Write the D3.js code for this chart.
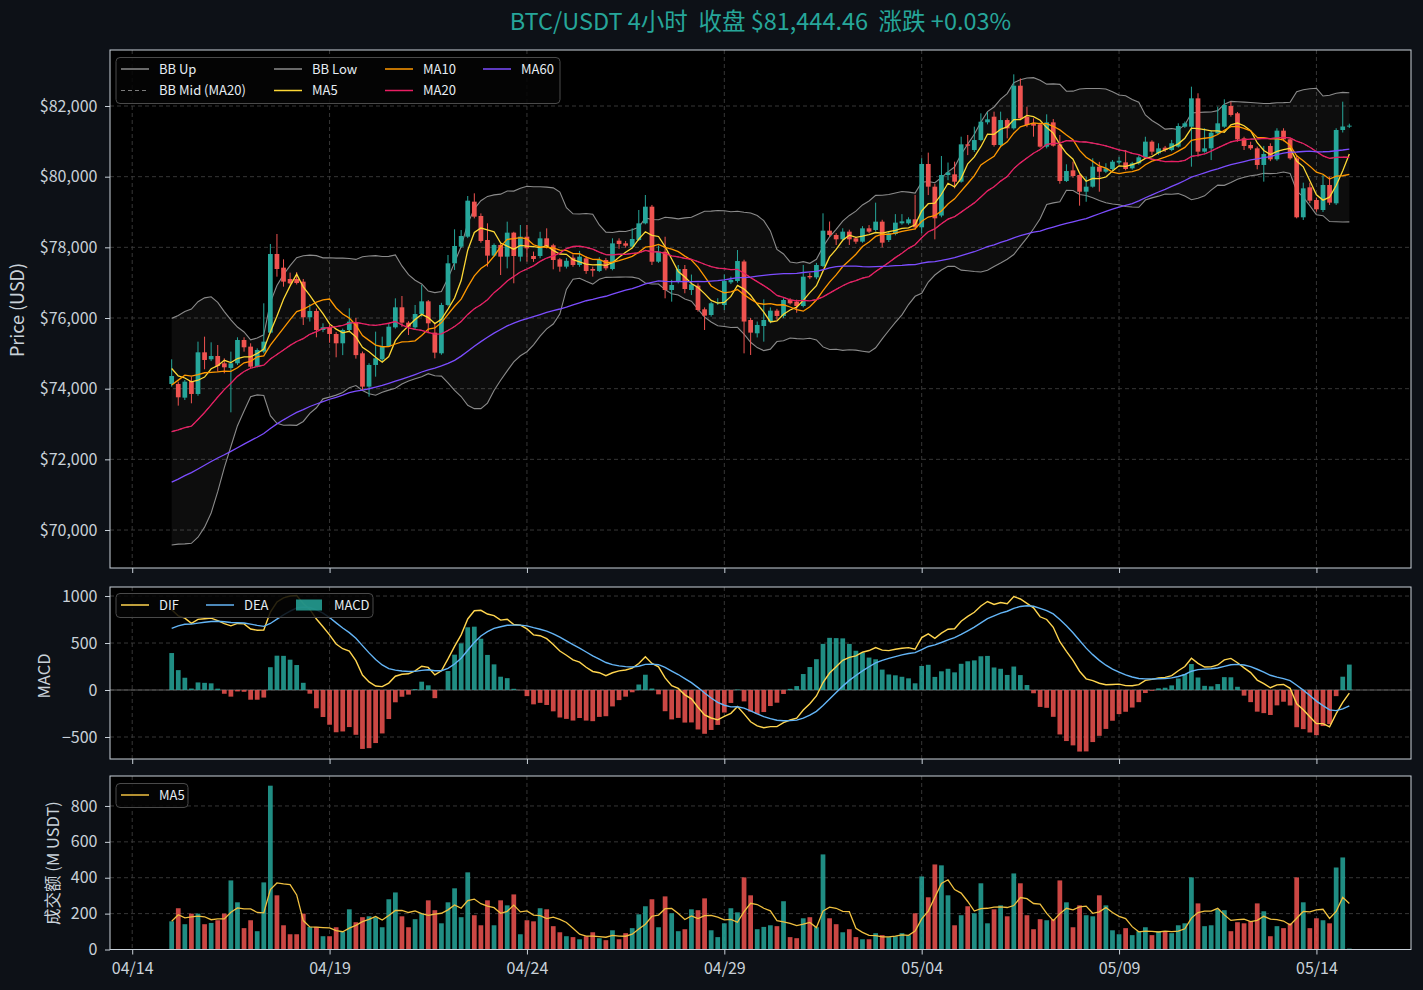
<!DOCTYPE html>
<html><head><meta charset="utf-8">
<script src="https://cdn.jsdelivr.net/npm/d3@7"></script>
<style>
body{margin:0;background:#0d1117;}
svg{display:block}
text{font-family:"Noto Sans CJK SC","Noto Sans",sans-serif;}
</style>
</head><body>
<svg id="c" width="1423" height="990"></svg>
<script>
// ---------------- DATA ----------------
const firstCandleUTC = Date.UTC(2025, 3, 15, 0);   // 04/15 00:00, 4h candles
const candleHours = 4;
const opens = [74133,74133,73746,74218,73850,75029,74831,74925,74718,74586,
74718,75378,75190,74623,75048,75586,77812,77425,77104,77104,
77029,76020,76199,75661,75737,75548,75284,75661,75880,75001,
74058,74671,74831,75208,75736,76303,75869,75736,76114,76472,
75586,75001,76369,77548,78019,78302,79293,78887,78208,77765,
78067,77736,78416,77736,78302,77755,77755,78255,78057,77660,
77453,77708,77500,77689,77387,77330,77642,77387,78189,78113,
78019,78208,78679,79151,77594,77877,76793,77029,77387,76793,
76915,76246,76085,76434,76368,77010,77047,77600,75944,75567,
75774,75897,76208,76058,76510,76463,76340,77189,77151,77472,
78472,78350,78227,78444,78255,78161,78538,78491,78727,78208,
78378,78680,78680,78793,78567,80359,79717,78900,80047,80066,
79858,80915,80755,81037,81538,81698,80896,81603,81368,82575,
81698,81509,81481,80849,81537,80915,79877,80179,80047,79575,
79717,80283,80141,80217,80400,80405,80236,80378,80548,80991,
80661,80821,80755,80850,81415,81415,82217,80708,80802,81227,
81415,82000,81793,81085,80896,80802,80331,80868,80491,81302,
81057,80519,78850,79699,79340,79057,79765,79246,81321,81420];
const highs = [74831,74199,74246,74340,75331,75472,75312,75236,74859,75048,
75454,75454,75284,75142,76416,78095,78378,77661,77284,77300,
77104,76397,76270,75850,75800,75600,75700,76274,76000,75050,
74720,75614,75472,75850,76557,76623,75910,76369,76935,76510,
75850,76430,77784,78510,78490,79453,79529,78960,78680,78110,
78110,78727,78440,78633,78633,77880,78440,78538,78100,77700,
77700,77800,77900,77750,77453,77720,77700,78255,78255,78180,
78538,79057,79481,79200,78050,78300,77080,77500,77500,77230,
76980,76300,76460,76560,77230,77170,77924,77650,76000,75900,
76529,76300,76260,76560,76560,76520,77500,77280,77560,78963,
78730,78400,78540,78500,78300,78600,78630,79265,78780,78444,
78940,78940,78850,79485,80519,80680,79800,80585,80400,80424,
81132,81180,81415,81792,81830,81840,81840,81650,82896,82780,
81981,81650,81530,81764,81630,81180,80350,80424,80070,79997,
80520,80420,80380,80470,80560,80755,80420,80600,81130,81030,
80944,80870,81040,81510,81560,82547,82360,81370,81300,81980,
82189,82120,81830,81130,80990,80850,80870,80944,81370,81370,
81100,80610,79830,79830,79400,80047,80000,81370,82123,81500];
const lows = [74058,73520,73680,73586,73800,74548,74780,74482,74435,73331,
74671,75048,74576,74600,75000,75560,77170,76887,76950,76950,
75803,75900,75454,75600,75300,74888,74950,75600,74850,73960,
73775,74340,74780,75180,75700,75750,75520,75680,76040,75567,
74859,74960,76330,77360,77980,78260,78820,78130,77453,77730,
77217,77406,76982,77600,77595,77590,77690,77970,77378,77311,
77400,77450,77450,77250,77170,77300,77350,77350,77960,77990,
77980,78180,78650,77500,77560,76557,76463,76980,76700,76650,
76180,75661,76040,76370,76230,76960,77000,75000,74954,75450,
75331,75850,75950,76000,76380,76150,76300,77100,77100,77440,
78300,78067,78190,78067,78100,78130,78400,78450,78000,78150,
78340,78640,78640,78500,78400,79480,78227,78850,79900,79670,
79830,80610,80700,81000,81480,80850,80850,81085,81330,81600,
81400,81132,80820,80800,80850,79800,79850,79970,79179,79290,
79690,79575,80100,80190,80350,80180,80200,80340,80520,80614,
80620,80700,80720,80820,81380,80283,80566,80680,80470,81190,
81380,81700,80990,80755,80755,80208,79859,80440,80450,81000,
80480,78820,78775,79250,79010,79000,79200,79200,81250,81380];
const closes = [74359,73756,74199,73850,75029,74812,74925,74642,74605,74718,
75378,75171,74623,75095,75331,77812,77387,77029,76981,76990,
76020,76199,75661,75737,75548,75284,75661,75897,74950,74058,
74671,74859,75208,75755,76303,75869,75755,76114,76472,75850,
75020,76369,77548,78038,78321,79321,78868,78180,77765,78067,
77736,78416,77755,78302,77972,77670,78255,78038,77642,77453,
77620,77500,77736,77330,77340,77642,77406,78113,78094,78047,
78236,78679,79151,77594,77877,76793,76934,77387,76821,76953,
76227,76067,76416,76450,77047,77076,77613,75900,75586,75803,
75944,76208,76058,76510,76416,76340,77170,77151,77500,78472,
78350,78227,78444,78227,78161,78538,78444,78727,78132,78397,
78699,78736,78793,78567,80359,79717,78821,80047,80120,79858,
80915,80877,81037,81556,81622,80896,81603,81368,82575,81651,
81462,81443,80849,81537,80877,79877,80160,80019,79575,79717,
80283,80141,80236,80424,80450,80217,80377,80548,80991,80708,
80802,80755,80944,81434,81510,82217,80708,80802,81245,81510,
82029,81746,81057,80868,80802,80331,80642,80491,81302,81057,
80519,78850,79670,79321,79076,79765,79265,81321,81420,81444.46];
// turnover in million USDT per candle
const volumes = [157,230,141,200,200,141,148,163,200,385,
263,119,163,102,374,913,302,135,85,85,
200,126,126,74,74,124,98,224,152,180,
185,180,124,280,318,185,124,169,202,274,
219,146,263,341,180,430,191,135,274,135,
274,246,307,85,163,157,230,224,130,96,
74,69,57,74,96,63,52,107,57,91,
119,196,241,280,124,296,202,102,113,224,
219,285,107,69,146,230,207,402,302,113,
126,135,130,269,69,63,174,180,124,530,
174,141,96,113,69,57,57,91,80,69,
74,91,80,202,407,291,474,469,302,135,
191,241,202,369,146,224,246,185,424,369,
191,113,169,163,169,385,263,124,246,191,
185,302,246,107,85,119,80,102,124,80,
102,102,91,135,146,402,257,130,135,224,
219,102,152,146,157,257,213,74,130,119,
146,402,263,119,174,163,146,457,513,5];
// closes before the visible window (estimated from where MA/BB/MACD start)
const warmupCloses = [67200,67500,67350,67800,68100,67900,68300,68000,68400,68700,
68500,68200,68600,68900,68700,68400,68800,69100,68900,68600,68800,
68500,68300,68700,68900,68600,68400,68800,69100,68900,69200,69000,68800,69300,69100,69200,69600,
70100,70500,70900,71200,71000,71400,71700,71500,71900,72100,71800,72200,72300,72400,
72100,72300,72200,72500,72400,72200,72000,72200,72300,72000,
72700,73000,73000,71200,70900,70600,70200,70400,71100,71500,72400,72800,
74100,74600,74300,74800,74500,74400,74800];
const xTickDates = ["2025-04-14","2025-04-19","2025-04-24","2025-04-29","2025-05-04","2025-05-09","2025-05-14"];
const priceTicks = [70000,72000,74000,76000,78000,80000,82000];
const macdTicks = [-500,0,500,1000];
const volTicks = [0,200,400,600,800];
const titleText = "BTC/USDT 4小时  收盘 $81,444.46  涨跌 +0.03%";

// ---------------- STYLE ----------------
const C = {bg:"#0d1117", ax:"#000000", up:"#26a69a", down:"#ef5350", text:"#c9d1d9",
  spine:"#c9d1d9", grid:"#3c3c3c", bb:"#8b8b8b", ma5:"#fdd835", ma10:"#ff9800",
  ma20:"#e91e63", ma60:"#7c4dff", dif:"#ffd54f", dea:"#64b5f6", vma:"#f0c040"};

// ---------------- INDICATORS ----------------
const all = warmupCloses.concat(closes), W0 = warmupCloses.length, N = closes.length;
function sma(n, k){ let s=0; for(let j=k-n+1;j<=k;j++) s+=all[j]; return s/n; }
function std(n, k){ const m=sma(n,k); let s=0; for(let j=k-n+1;j<=k;j++) s+=(all[j]-m)**2; return Math.sqrt(s/n); }
function emaArr(arr, n){ const a=2/(n+1); const out=[arr[0]]; for(let j=1;j<arr.length;j++) out.push(a*arr[j]+(1-a)*out[j-1]); return out; }
const e12 = emaArr(all,12), e26 = emaArr(all,26);
const difAll = e12.map((v,j)=>v-e26[j]);
const deaAll = emaArr(difAll,9);
const idx = d3.range(N);
const ma5 = idx.map(i=>sma(5,W0+i)), ma10 = idx.map(i=>sma(10,W0+i)),
      ma20 = idx.map(i=>sma(20,W0+i)), ma60 = idx.map(i=>sma(60,W0+i));
const bbUp = idx.map(i=>ma20[i]+2*std(20,W0+i)), bbLow = idx.map(i=>ma20[i]-2*std(20,W0+i));
const dif = idx.map(i=>difAll[W0+i]), dea = idx.map(i=>deaAll[W0+i]);
const hist = idx.map(i=>2*(dif[i]-dea[i]));
const vma5 = idx.map(i=>{ const s=volumes.slice(Math.max(0,i-4), i+1); return d3.mean(s); });

// ---------------- LAYOUT / SCALES ----------------
const svg = d3.select("#c");
svg.append("rect").attr("width",1423).attr("height",990).attr("fill",C.bg);
const L=110, R=1411;
const P = {top:50, bot:568}, M = {top:587, bot:759}, V = {top:776, bot:949.5};
const HOUR=3600e3;
const times = idx.map(i=>new Date(firstCandleUTC + i*candleHours*HOUR));
const x = d3.scaleUtc().domain([new Date(times[0]-37.5*HOUR), new Date(+times[N-1]+37.5*HOUR)]).range([L,R]);
const step = x(times[1])-x(times[0]);
const yP = d3.scaleLinear().domain([68925,83585]).range([P.bot,P.top]);
const yM = d3.scaleLinear().domain([-734,1096]).range([M.bot,M.top]);
const yV = d3.scaleLinear().domain([0,967]).range([V.bot,V.top]);
const xt = xTickDates.map(s=>new Date(s+"T00:00:00Z"));
const FONT = '"Noto Sans CJK SC","Noto Sans",sans-serif';
const TICKFS = 16;

function panel(p, y, ticks, fmt, id){
  const g = svg.append("g");
  g.append("rect").attr("x",L).attr("y",p.top).attr("width",R-L).attr("height",p.bot-p.top).attr("fill",C.ax);
  svg.append("clipPath").attr("id",id).append("rect").attr("x",L).attr("y",p.top).attr("width",R-L).attr("height",p.bot-p.top);
  g.selectAll(".gx").data(xt).join("line").attr("x1",d=>x(d)).attr("x2",d=>x(d)).attr("y1",p.top).attr("y2",p.bot)
    .attr("stroke",C.grid).attr("stroke-dasharray","4,3").attr("stroke-width",0.9);
  g.selectAll(".gy").data(ticks).join("line").attr("x1",L).attr("x2",R).attr("y1",d=>y(d)).attr("y2",d=>y(d))
    .attr("stroke",C.grid).attr("stroke-dasharray","4,3").attr("stroke-width",0.9);
  const ay = svg.append("g").attr("transform",`translate(${L},0)`).call(d3.axisLeft(y).tickValues(ticks).tickFormat(fmt).tickSize(5).tickPadding(7.5));
  ay.select(".domain").remove();
  ay.selectAll("line").attr("stroke",C.spine);
  ay.selectAll("text").attr("fill",C.text).attr("font-size",TICKFS).attr("font-family",FONT);
  return {g, clip:`url(#${id})`};
}
const pp = panel(P, yP, priceTicks, d=>"$"+d3.format(",")(d), "cp");
const mp = panel(M, yM, macdTicks, d=>d3.format("d")(d), "cm");
const vp = panel(V, yV, volTicks, d3.format("d"), "cv");

// ---------------- PRICE PANEL ----------------
const pg = svg.append("g").attr("clip-path",pp.clip);
pg.append("path").datum(idx).attr("fill","#ffffff").attr("fill-opacity",0.05)
  .attr("d", d3.area().x(i=>x(times[i])).y0(i=>yP(bbLow[i])).y1(i=>yP(bbUp[i])));
const line = (arr,y)=>d3.line().x(i=>x(times[i])).y(i=>y(arr[i]));
pg.append("path").datum(idx).attr("fill","none").attr("stroke",C.bb).attr("stroke-width",1.1).attr("d",line(bbUp,yP));
pg.append("path").datum(idx).attr("fill","none").attr("stroke",C.bb).attr("stroke-width",1.1).attr("d",line(bbLow,yP));
pg.append("path").datum(idx).attr("fill","none").attr("stroke",C.bb).attr("stroke-width",0.9).attr("stroke-dasharray","4,3").attr("d",line(ma20,yP));
const bw = step*0.72;
const cg = pg.append("g");
cg.selectAll("line").data(idx).join("line")
  .attr("x1",i=>x(times[i])).attr("x2",i=>x(times[i])).attr("y1",i=>yP(highs[i])).attr("y2",i=>yP(lows[i]))
  .attr("stroke",i=>closes[i]>=opens[i]?C.up:C.down).attr("stroke-width",1);
cg.selectAll("rect").data(idx).join("rect")
  .attr("x",i=>x(times[i])-bw/2).attr("width",bw)
  .attr("y",i=>yP(Math.max(opens[i],closes[i])))
  .attr("height",i=>Math.max(1,Math.abs(yP(opens[i])-yP(closes[i]))))
  .attr("fill",i=>closes[i]>=opens[i]?C.up:C.down);
[[ma5,C.ma5],[ma10,C.ma10],[ma20,C.ma20],[ma60,C.ma60]].forEach(([a,c])=>{
  pg.append("path").datum(idx).attr("fill","none").attr("stroke",c).attr("stroke-width",1.3).attr("d",line(a,yP));
});

// ---------------- MACD PANEL ----------------
const mg = svg.append("g").attr("clip-path",mp.clip);
mg.append("line").attr("x1",L).attr("x2",R).attr("y1",yM(0)).attr("y2",yM(0)).attr("stroke","#777").attr("stroke-width",0.8);
mg.selectAll("rect").data(idx).join("rect")
  .attr("x",i=>x(times[i])-bw/2).attr("width",bw)
  .attr("y",i=>hist[i]>=0?yM(hist[i]):yM(0))
  .attr("height",i=>Math.abs(yM(hist[i])-yM(0)))
  .attr("fill",i=>hist[i]>=0?C.up:C.down).attr("fill-opacity",0.85);
mg.append("path").datum(idx).attr("fill","none").attr("stroke",C.dif).attr("stroke-width",1.4).attr("d",line(dif,yM));
mg.append("path").datum(idx).attr("fill","none").attr("stroke",C.dea).attr("stroke-width",1.4).attr("d",line(dea,yM));

// ---------------- VOLUME PANEL ----------------
const vg = svg.append("g").attr("clip-path",vp.clip);
vg.selectAll("rect").data(idx).join("rect")
  .attr("x",i=>x(times[i])-bw/2).attr("width",bw)
  .attr("y",i=>yV(volumes[i])).attr("height",i=>yV(0)-yV(volumes[i]))
  .attr("fill",i=>closes[i]>=opens[i]?C.up:C.down).attr("fill-opacity",0.85);
vg.append("path").datum(idx).attr("fill","none").attr("stroke",C.vma).attr("stroke-width",1.3).attr("d",line(vma5,yV));

// ---------------- SPINES, X AXES ----------------
[P,M,V].forEach((p,k)=>{
  svg.append("rect").attr("x",L).attr("y",p.top).attr("width",R-L).attr("height",p.bot-p.top)
    .attr("fill","none").attr("stroke",C.spine).attr("stroke-width",1);
  const ax = svg.append("g").attr("transform",`translate(0,${p.bot})`)
    .call(d3.axisBottom(x).tickValues(xt).tickFormat(k===2?d3.utcFormat("%m/%d"):"").tickSize(5).tickPadding(8));
  ax.select(".domain").remove();
  ax.selectAll("line").attr("stroke",C.spine);
  ax.selectAll("text").attr("fill",C.text).attr("font-size",TICKFS).attr("font-family",FONT);
});

// ---------------- LABELS ----------------
svg.append("text").attr("x",760.5).attr("y",30).attr("text-anchor","middle").attr("fill",C.up)
  .attr("font-size",23.5).style("white-space","pre").attr("xml:space","preserve").text(titleText);
function ylabel(txt,xp,yp,fs){ svg.append("text").attr("transform",`translate(${xp},${yp}) rotate(-90)`)
  .attr("text-anchor","middle").attr("fill",C.text).attr("font-size",fs).text(txt); }
ylabel("Price (USD)",24,310,18);
ylabel("MACD",50,676,16.5);
ylabel("成交额 (M USDT)",59,863,16.5);

// ---------------- LEGENDS ----------------
function legendBox(x0,y0,w,h){ svg.append("rect").attr("x",x0).attr("y",y0).attr("width",w).attr("height",h).attr("rx",4)
  .attr("fill","#050505").attr("fill-opacity",0.85).attr("stroke","#4a4a4a").attr("stroke-width",1); }
function legLine(x0,y0,color,txt,dash){
  svg.append("line").attr("x1",x0).attr("x2",x0+28).attr("y1",y0).attr("y2",y0).attr("stroke",color)
    .attr("stroke-width",dash?0.9:1.5).attr("stroke-dasharray",dash?"4,3":null);
  svg.append("text").attr("x",x0+38).attr("y",y0).attr("dy","0.35em").attr("fill","#e6edf3").attr("font-size",13).text(txt);
}
legendBox(116,57.5,444,46);
legLine(121,69,C.bb,"BB Up"); legLine(121,90.5,C.bb,"BB Mid (MA20)",true);
legLine(274,69,C.bb,"BB Low"); legLine(274,90.5,C.ma5,"MA5");
legLine(385,69,C.ma10,"MA10"); legLine(385,90.5,C.ma20,"MA20");
legLine(483,69,C.ma60,"MA60");
legendBox(116,593.5,257,24);
legLine(121,605,C.dif,"DIF"); legLine(206,605,C.dea,"DEA");
svg.append("rect").attr("x",296).attr("y",599.5).attr("width",26).attr("height",11).attr("fill",C.up).attr("fill-opacity",0.85);
svg.append("text").attr("x",334).attr("y",605).attr("dy","0.35em").attr("fill","#e6edf3").attr("font-size",13).text("MACD");
legendBox(116,783.5,72,24);
legLine(121,795,C.vma,"MA5");
</script>
</body></html>
